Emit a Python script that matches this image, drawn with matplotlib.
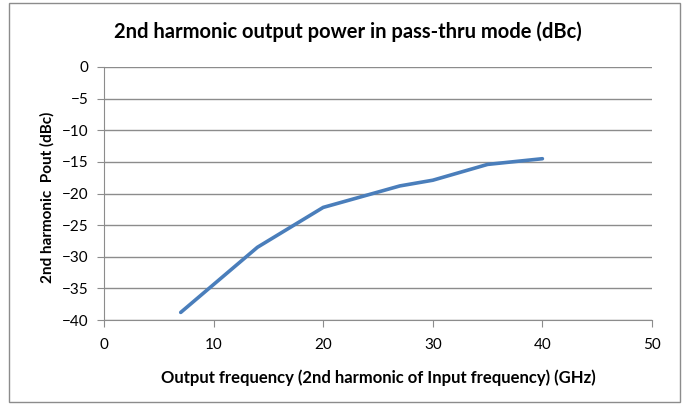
import matplotlib
matplotlib.use("Agg")
import matplotlib.pyplot as plt
from matplotlib.patches import Rectangle

freq_ghz = [7, 14, 20, 27, 30, 35, 40]
pout_dbc = [-38.8, -28.5, -22.2, -18.8, -17.9, -15.4, -14.5]
x_ticks = [0, 10, 20, 30, 40, 50]
y_ticks = [0, -5, -10, -15, -20, -25, -30, -35, -40]

plt.rcParams['font.family'] = ['Lato', 'DejaVu Sans']

fig = plt.figure(figsize=(6.88, 4.08), dpi=100)
fig.patch.set_facecolor('white')
fig.add_artist(Rectangle((9/688, 1-402/408), 671/688, 399/408, transform=fig.transFigure,
                         fill=False, edgecolor='#8c8c8c', linewidth=1.0))

ax = fig.add_axes([104/688, 1-320/408, 548/688, 253/408])
ax.plot(freq_ghz, pout_dbc, color='#4a7ebb', linewidth=2.6, solid_capstyle='round')
ax.set_xlim(0, 50)
ax.set_ylim(-40, 0)
ax.set_xticks(x_ticks)
ax.set_yticks(y_ticks)
ax.grid(axis='y', color='#8c8c8c', linewidth=1.0)
ax.set_axisbelow(True)
for s in ['top', 'right']:
    ax.spines[s].set_visible(False)
for s in ['left', 'bottom']:
    ax.spines[s].set_color('#8c8c8c')
ax.tick_params(axis='both', direction='out', length=5, color='#8c8c8c', labelsize=11, pad=6)
ax.tick_params(axis='x', pad=8)

fig.text(348/688, 1-32/408, '2nd harmonic output power in pass-thru mode (dBc)',
         ha='center', va='center', fontsize=14.5, fontweight='bold')
fig.text(378/688, 1-378/408, 'Output frequency (2nd harmonic of Input frequency) (GHz)',
         ha='center', va='center', fontsize=12, fontweight='bold')
fig.text(47/688, 1-197/408, '2nd harmonic  Pout (dBc)', rotation=90,
         ha='center', va='center', fontsize=11, fontweight='bold')

fig.savefig('out.png', dpi=100)
